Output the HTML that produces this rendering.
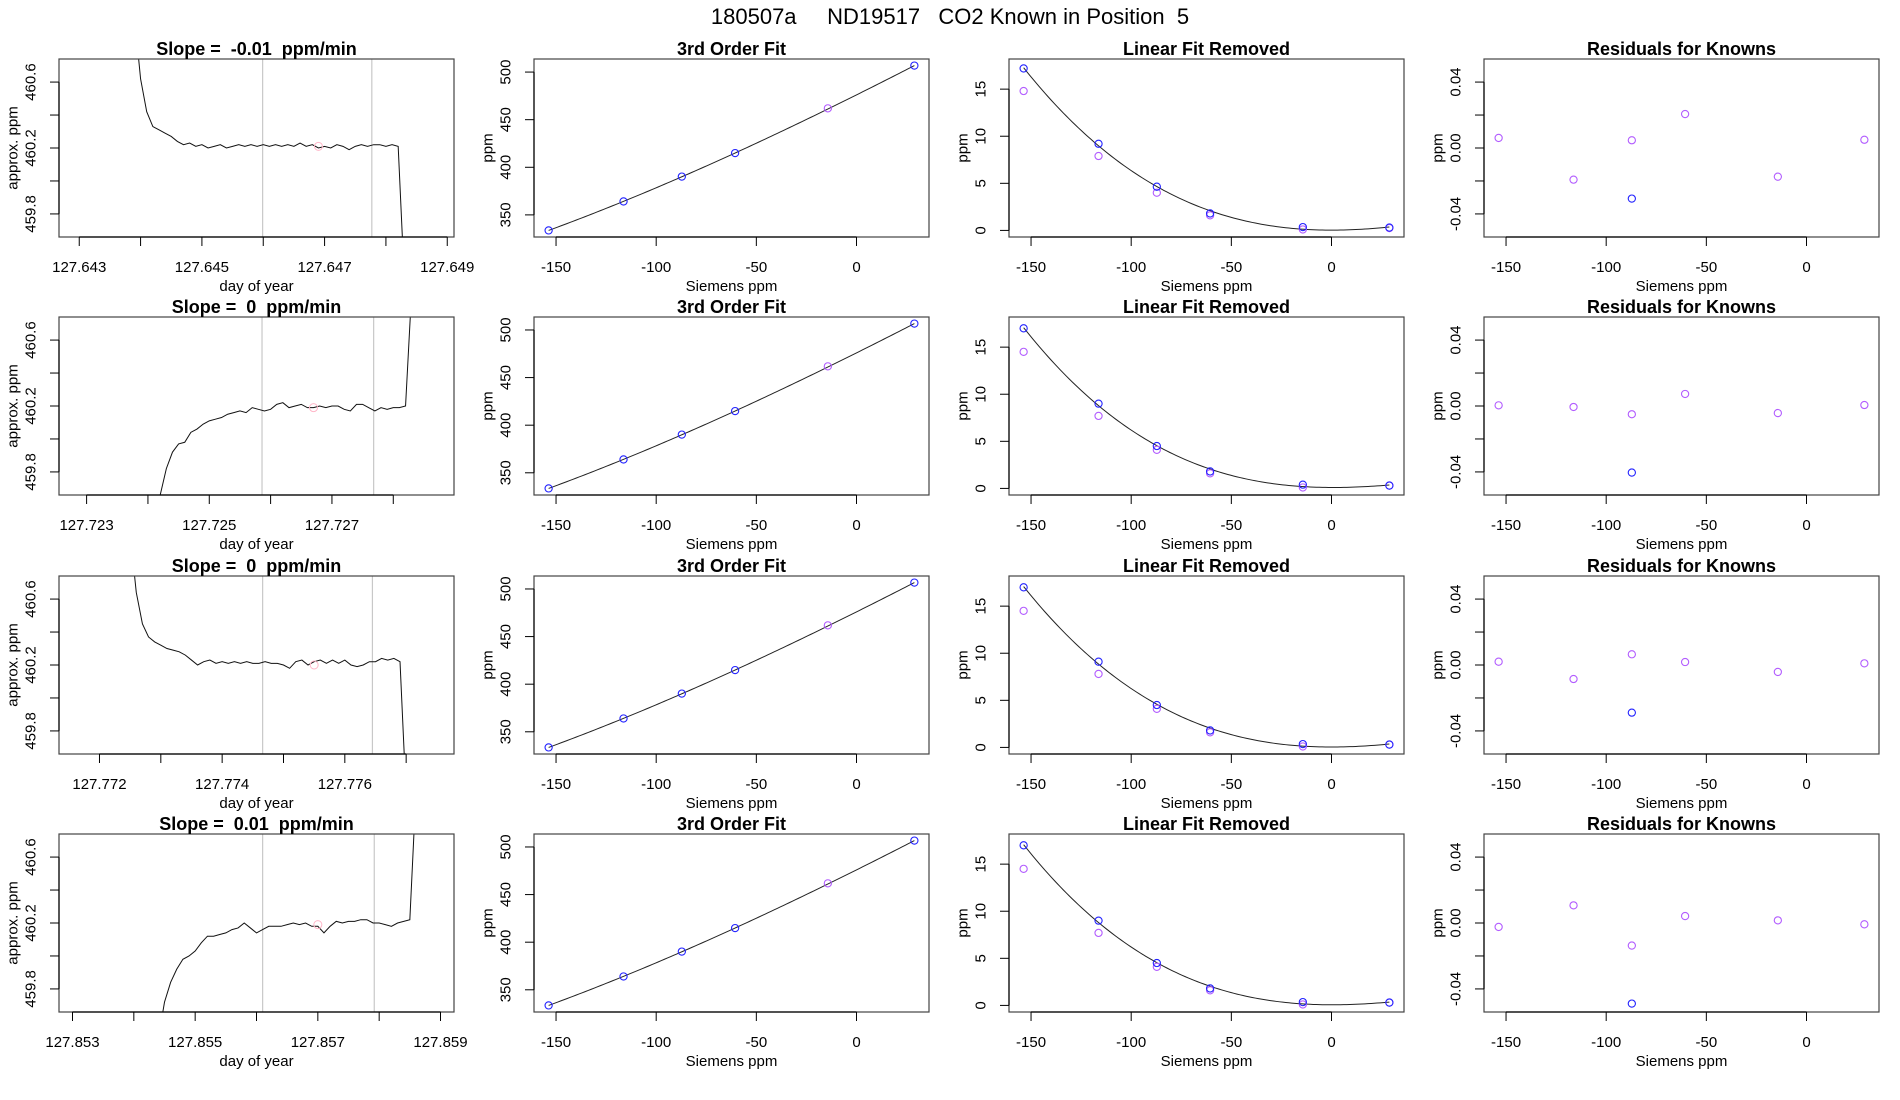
<!DOCTYPE html>
<html><head><meta charset="utf-8"><style>
html,body{margin:0;padding:0;background:#fff;}
svg{display:block;font-family:"Liberation Sans",Arial,sans-serif;}
svg text{white-space:pre;}
</style></head><body>
<svg id="fig" width="1900" height="1100" viewBox="0 0 1900 1100" xmlns="http://www.w3.org/2000/svg">
<rect x="0" y="0" width="1900" height="1100" fill="#fff"/>
<text x="950" y="24" text-anchor="middle" font-size="22" xml:space="preserve">180507a     ND19517   CO2 Known in Position  5</text>
</svg>
<script>
// ---------- data ----------
const rowT0 = [127.6439, 127.7241, 127.7725, 127.8544];
const rowDt = 0.0001;
const rowVals = [
 [461.0,460.62,460.42,460.33,460.31,460.29,460.27,460.24,460.22,460.23,460.21,460.22,460.20,460.21,460.22,460.20,460.21,460.22,460.21,460.22,460.21,460.22,460.21,460.22,460.21,460.22,460.21,460.23,460.21,460.22,460.20,460.21,460.20,460.22,460.21,460.19,460.21,460.22,460.21,460.22,460.22,460.21,460.22,460.21,459.4],
 [459.5,459.66,459.82,459.92,459.97,459.98,460.04,460.06,460.09,460.11,460.12,460.13,460.15,460.16,460.17,460.16,460.19,460.18,460.17,460.18,460.21,460.22,460.19,460.20,460.21,460.19,460.19,460.20,460.19,460.20,460.20,460.18,460.17,460.21,460.21,460.19,460.17,460.19,460.18,460.19,460.19,460.20,460.9],
 [461.0,460.64,460.45,460.37,460.34,460.32,460.30,460.29,460.28,460.26,460.23,460.20,460.22,460.23,460.21,460.22,460.21,460.22,460.21,460.22,460.21,460.21,460.22,460.21,460.21,460.20,460.18,460.22,460.23,460.20,460.22,460.23,460.21,460.23,460.21,460.23,460.20,460.19,460.20,460.22,460.22,460.24,460.23,460.24,460.22,459.4],
 [459.5,459.72,459.84,459.92,459.98,460.00,460.03,460.08,460.12,460.12,460.13,460.14,460.16,460.17,460.20,460.17,460.14,460.16,460.18,460.18,460.18,460.19,460.20,460.19,460.20,460.18,460.18,460.14,460.18,460.21,460.20,460.21,460.21,460.22,460.22,460.20,460.20,460.19,460.18,460.20,460.21,460.22,461.0]
];
const dayRange = [[127.64267,127.64911],[127.72255,127.72899],[127.77134,127.77778],[127.85278,127.85922]];
const dayTickStart = [127.643, 127.723, 127.772, 127.853];
const grayLines = [[127.64599,127.64777],[127.72586,127.72768],[127.77466,127.77645],[127.8561,127.85792]];
const pinkMark = [[127.6469,460.21],[127.7267,460.19],[127.7755,460.20],[127.8570,460.19]];
const slopes = ["-0.01","0","0","0.01"];
const approxRange = [459.7, 460.7];
const approxTicks = [459.8, 460.0, 460.2, 460.4, 460.6];
const approxTickLabels = ["459.8", "", "460.2", "", "460.6"];

const siemens = [-153.7, -116.3, -87.2, -60.6, -14.3, 28.9];
const siemensTicks = [-150, -100, -50, 0];
const knownPpm = [
 [333.7, 364.1, 390.2, 414.9, 461.9, 506.8],
 [333.6, 364.0, 390.1, 414.8, 461.8, 506.7],
 [333.6, 364.0, 390.1, 414.8, 461.8, 506.7],
 [333.6, 364.0, 390.1, 414.8, 461.8, 506.7]
];
const knownIsUnknown = [false, false, false, false, true, false];
const ppmTicks = [350, 400, 450, 500];

const lfrBlue = [
 [17.2, 9.2, 4.64, 1.8, 0.35, 0.3],
 [17.0, 9.0, 4.5, 1.8, 0.4, 0.3],
 [17.0, 9.1, 4.5, 1.8, 0.35, 0.3],
 [17.0, 9.0, 4.5, 1.8, 0.35, 0.3]
];
const lfrPurple = [
 [14.8, 7.9, 4.0, 1.6, 0.1, 0.25],
 [14.5, 7.7, 4.1, 1.6, 0.1, 0.3],
 [14.5, 7.8, 4.1, 1.6, 0.1, 0.3],
 [14.5, 7.7, 4.1, 1.6, 0.1, 0.3]
];
const lfrRange = [0, 17.5];
const lfrTicks = [0, 5, 10, 15];

const residPurple = [
 [0.0061, -0.0192, 0.0047, 0.0206, -0.0174, 0.0050],
 [0.0004, -0.0006, -0.0050, 0.0073, -0.0043, 0.0006],
 [0.0020, -0.0085, 0.0065, 0.0018, -0.0042, 0.0010],
 [-0.0024, 0.0107, -0.0137, 0.0042, 0.0016, -0.0008]
];
const residBlueX = -87.2;
const residBlue = [-0.0307, -0.0404, -0.0289, -0.0489];
const residRange = [-0.05, 0.05];
const residTicks = [-0.04, -0.02, 0, 0.02, 0.04];
const residTickLabels = ["-0.04", "", "0.00", "", "0.04"];

// ---------- drawing ----------
const NS = "http://www.w3.org/2000/svg";
const svg = document.getElementById("fig");
const BOXW = 395, BOXH = 178;
const TICKFS = 15;
function mk(tag, attrs, parent) {
  const e = document.createElementNS(NS, tag);
  for (const k in attrs) e.setAttribute(k, attrs[k]);
  (parent || svg).appendChild(e);
  return e;
}
function ext(lo, hi) { const d = (hi - lo) * 0.04; return [lo - d, hi + d]; }
function scale(dom, r0, r1) { return v => r0 + (v - dom[0]) / (dom[1] - dom[0]) * (r1 - r0); }
function txt(s, attrs, name, parent) {
  const t = mk("text", attrs, parent);
  t.textContent = s;
  
  
  return t;
}
function panelFrame(g, L, T, title, ylabel, xlabel) {
  const box = mk("rect", {x: L, y: T, width: BOXW, height: BOXH, fill: "none", stroke: "#444", "stroke-width": 1.2}, g);
  
  
  txt(title, {x: L + BOXW / 2, y: T - 4, "text-anchor": "middle", "font-size": 18, "font-weight": "bold"}, "panel-title", g);
  txt(ylabel, {x: L - 46, y: T + BOXH / 2, "text-anchor": "middle", "dominant-baseline": "central", "font-size": TICKFS, transform: `rotate(-90 ${L - 46} ${T + BOXH / 2})`}, "y-axis-title", g);
  txt(xlabel, {x: L + BOXW / 2, y: T + BOXH + 54, "text-anchor": "middle", "font-size": TICKFS}, "x-axis-title", g);
}
function xTicks(g, sx, ticks, labels, L, T) {
  const B = T + BOXH;
  const vis = ticks.filter(v => { const p = sx(v); return p >= L - 0.5 && p <= L + BOXW + 0.5; });
  const a = mk("line", {x1: sx(vis[0]), x2: sx(vis[vis.length - 1]), y1: B, y2: B, stroke: "#000", "stroke-width": 1.2}, g);
  
  
  ticks.forEach((v, i) => {
    const p = sx(v);
    if (p < L - 0.5 || p > L + BOXW + 0.5) return;
    const t = mk("line", {x1: p, x2: p, y1: B, y2: B + 9, stroke: "#000", "stroke-width": 1}, g);
    
    
    if (labels[i]) txt(labels[i], {x: p, y: B + 35, "text-anchor": "middle", "font-size": TICKFS}, "x-tick-label", g);
  });
}
function yTicks(g, sy, ticks, labels, L, T) {
  const vis = ticks.filter(v => { const p = sy(v); return p >= T - 0.5 && p <= T + BOXH + 0.5; });
  const a = mk("line", {x1: L, x2: L, y1: sy(vis[0]), y2: sy(vis[vis.length - 1]), stroke: "#000", "stroke-width": 1.2}, g);
  
  
  ticks.forEach((v, i) => {
    const p = sy(v);
    if (p < T - 0.5 || p > T + BOXH + 0.5) return;
    const t = mk("line", {x1: L - 9, x2: L, y1: p, y2: p, stroke: "#000", "stroke-width": 1}, g);
    
    
    if (labels[i]) txt(labels[i], {x: L - 28, y: p, "text-anchor": "middle", "dominant-baseline": "central", "font-size": TICKFS, transform: `rotate(-90 ${L - 28} ${p})`}, "y-tick-label", g);
  });
}
function circle(g, x, y, color, name) {
  const c = mk("circle", {cx: x, cy: y, r: 3.6, fill: "none", stroke: color, "stroke-width": 1.1}, g);
  
  
}
function clip(id, L, T) {
  let defs = svg.querySelector("defs") || mk("defs", {});
  const cp = mk("clipPath", {id: id}, defs);
  mk("rect", {x: L, y: T, width: BOXW, height: BOXH}, cp);
}
function cubicFit(xs, ys) {
  const n = 4, A = [], b = [];
  for (let i = 0; i < n; i++) { A.push([0, 0, 0, 0]); b.push(0); }
  xs.forEach((x0, k) => {
    const x = x0 / 100;
    const p = [1, x, x * x, x * x * x];
    for (let i = 0; i < n; i++) { b[i] += p[i] * ys[k]; for (let j = 0; j < n; j++) A[i][j] += p[i] * p[j]; }
  });
  for (let i = 0; i < n; i++) {
    let m = i; for (let r = i + 1; r < n; r++) if (Math.abs(A[r][i]) > Math.abs(A[m][i])) m = r;
    [A[i], A[m]] = [A[m], A[i]]; [b[i], b[m]] = [b[m], b[i]];
    for (let r = i + 1; r < n; r++) { const f = A[r][i] / A[i][i]; for (let j = i; j < n; j++) A[r][j] -= f * A[i][j]; b[r] -= f * b[i]; }
  }
  const c = [0, 0, 0, 0];
  for (let i = n - 1; i >= 0; i--) { let s = b[i]; for (let j = i + 1; j < n; j++) s -= A[i][j] * c[j]; c[i] = s / A[i][i]; }
  return x0 => { const x = x0 / 100; return c[0] + c[1] * x + c[2] * x * x + c[3] * x * x * x; };
}
function fitPath(g, f, sx, sy, name) {
  const lo = Math.min(...siemens), hi = Math.max(...siemens);
  let d = "";
  for (let i = 0; i <= 120; i++) { const x = lo + (hi - lo) * i / 120; d += (i ? "L" : "M") + sx(x).toFixed(2) + "," + sy(f(x)).toFixed(2); }
  const p = mk("path", {d: d, fill: "none", stroke: "#222", "stroke-width": 1}, g);
  
  
}
const BLUE = "#2222ff", PURPLE = "#b25cff";
const sRange = ext(Math.min(...siemens), Math.max(...siemens));
const sTickLabels = siemensTicks.map(String);

for (let r = 0; r < 4; r++) {
  const T = Math.round(59 + r * 258.33);
  {
    const L = 59;
    const g = mk("g", {});
    
    
    const sx = scale(dayRange[r], L, L + BOXW);
    const sy = scale(ext(approxRange[0], approxRange[1]), T + BOXH, T);
    grayLines[r].forEach(d => {
      const l = mk("line", {x1: sx(d), x2: sx(d), y1: T, y2: T + BOXH, stroke: "#c8c8c8", "stroke-width": 1.2}, g);
      
      
    });
    clip("clip" + r, L, T);
    let d = "";
    rowVals[r].forEach((v, i) => { d += (i ? "L" : "M") + sx(rowT0[r] + i * rowDt).toFixed(2) + "," + sy(v).toFixed(2); });
    const p = mk("path", {d: d, fill: "none", stroke: "#111", "stroke-width": 1, "clip-path": `url(#clip${r})`}, g);
    
    
    const pc = mk("circle", {cx: sx(pinkMark[r][0]), cy: sy(pinkMark[r][1]), r: 4, fill: "none", stroke: "#ffb6c8", "stroke-width": 1}, g);
    
    
    panelFrame(g, L, T, "Slope =  " + slopes[r] + "  ppm/min", "approx. ppm", "day of year");
    const ticks = [], labels = [];
    for (let k = 0; k < 8; k++) { const v = dayTickStart[r] + k * 0.001; ticks.push(v); labels.push(k % 2 === 0 ? v.toFixed(3) : ""); }
    xTicks(g, sx, ticks, labels, L, T);
    yTicks(g, sy, approxTicks, approxTickLabels, L, T);
  }
  {
    const L = 475 + 59;
    const g = mk("g", {});
    
    
    const sx = scale(sRange, L, L + BOXW);
    const sy = scale(ext(Math.min(...knownPpm[r]), Math.max(...knownPpm[r])), T + BOXH, T);
    const bx = [], by = [];
    siemens.forEach((x, i) => { if (!knownIsUnknown[i]) { bx.push(x); by.push(knownPpm[r][i]); } });
    fitPath(g, cubicFit(bx, by), sx, sy, "cubic-fit-line");
    siemens.forEach((x, i) => circle(g, sx(x), sy(knownPpm[r][i]), knownIsUnknown[i] ? PURPLE : BLUE, "known-point"));
    panelFrame(g, L, T, "3rd Order Fit", "ppm", "Siemens ppm");
    xTicks(g, sx, siemensTicks, sTickLabels, L, T);
    yTicks(g, sy, ppmTicks, ppmTicks.map(String), L, T);
  }
  {
    const L = 950 + 59;
    const g = mk("g", {});
    
    
    const sx = scale(sRange, L, L + BOXW);
    const sy = scale(ext(lfrRange[0], lfrRange[1]), T + BOXH, T);
    fitPath(g, cubicFit(siemens, lfrBlue[r]), sx, sy, "curvature-fit-line");
    siemens.forEach((x, i) => circle(g, sx(x), sy(lfrPurple[r][i]), PURPLE, "lfr-point-purple"));
    siemens.forEach((x, i) => circle(g, sx(x), sy(lfrBlue[r][i]), BLUE, "lfr-point-blue"));
    panelFrame(g, L, T, "Linear Fit Removed", "ppm", "Siemens ppm");
    xTicks(g, sx, siemensTicks, sTickLabels, L, T);
    yTicks(g, sy, lfrTicks, lfrTicks.map(String), L, T);
  }
  {
    const L = 1425 + 59;
    const g = mk("g", {});
    
    
    const sx = scale(sRange, L, L + BOXW);
    const sy = scale(ext(residRange[0], residRange[1]), T + BOXH, T);
    siemens.forEach((x, i) => circle(g, sx(x), sy(residPurple[r][i]), PURPLE, "residual-point"));
    circle(g, sx(residBlueX), sy(residBlue[r]), BLUE, "residual-point-blue");
    panelFrame(g, L, T, "Residuals for Knowns", "ppm", "Siemens ppm");
    xTicks(g, sx, siemensTicks, sTickLabels, L, T);
    yTicks(g, sy, residTicks, residTickLabels, L, T);
  }
}
</script>
</body></html>
